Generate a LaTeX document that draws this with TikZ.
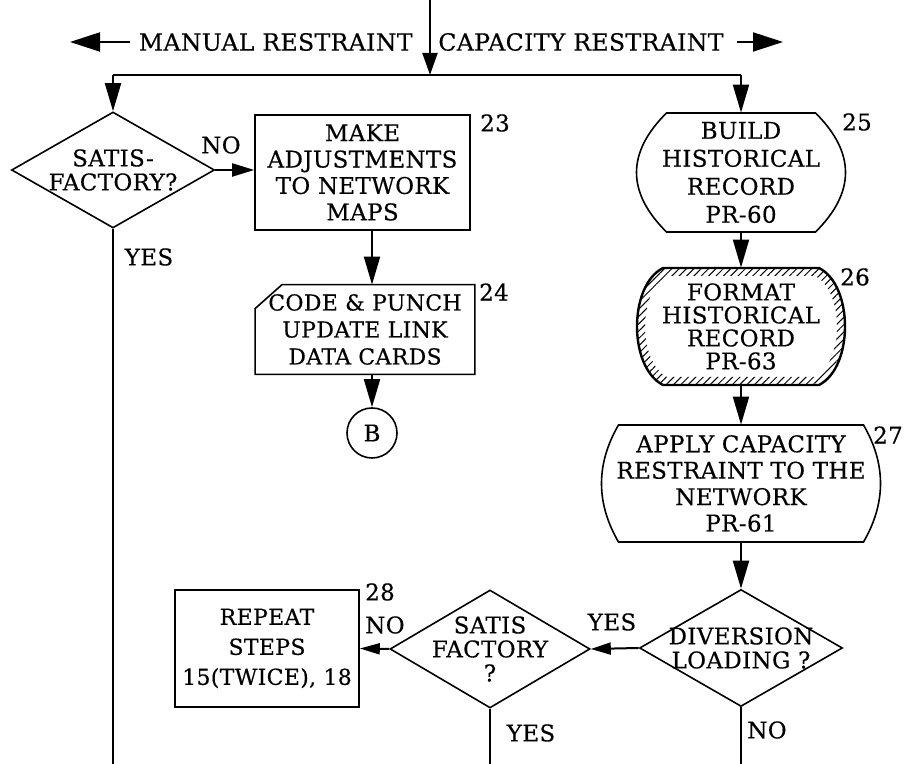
\documentclass[tikz,border=0pt]{standalone}
\usepackage{fontspec}
\setmainfont{DejaVu Serif}[LetterSpace=1.5, FakeBold=0.4]
\usetikzlibrary{shapes.geometric,arrows.meta,patterns.meta}

\newcommand\boxfont{\fontsize{11.5}{13.2}\selectfont}
\newcommand\askfont{\fontsize{11.5}{12}\selectfont}
\newcommand\hdrfont{\fontsize{11.8}{13}\selectfont}
% outline of a terminal with bulging sides: cx, cy, half flat width, half height, bulge, tangent factor
\newcommand\bulgepath[6]{({#1-#3},{#2+#4}) -- ({#1+#3},{#2+#4})
  .. controls +({4*#5/3},{-#6*#4}) and +({4*#5/3},{#6*#4}) .. ({#1+#3},{#2-#4})
  -- ({#1-#3},{#2-#4})
  .. controls +({-4*#5/3},{#6*#4}) and +({-4*#5/3},{-#6*#4}) .. cycle}

\begin{document}
\begin{tikzpicture}[x=0.5pt,y=0.5pt,
    procbox/.style={rectangle, draw, line width=0.8pt, align=center, inner sep=0pt, font=\boxfont},
    termbox/.style={rectangle, align=center, inner sep=0pt, font=\boxfont},
    decision/.style={diamond, draw, line width=0.8pt, inner sep=0pt, label={[align=center, font=\askfont]center:#1}},
    tag/.style={inner sep=0pt, font=\boxfont},
    conn/.style={line width=1pt},
    flow/.style={conn, -{Triangle[length=14pt,width=8pt]}},
    sideflow/.style={conn, -{Triangle[length=11pt,width=6.5pt]}},
    hdrarrow/.style={conn, -{Triangle[length=15pt,width=9.5pt]}}
  ]
    \useasboundingbox (0,0) rectangle (905,764);

    % heading
    \node[tag, font=\hdrfont, anchor=east] (manual) at (413,722) {MANUAL RESTRAINT};
    \node[tag, font=\hdrfont, anchor=west] (capacity) at (438,722) {CAPACITY RESTRAINT};
    \coordinate (mtail) at (130,722);
    \coordinate (mtip) at (70,722);
    \coordinate (ctail) at (737,722);
    \coordinate (ctip) at (783,722);
    \draw[hdrarrow] (mtail) -- (mtip);
    \draw[hdrarrow] (ctail) -- (ctip);

    % manual restraint branch
    \node[decision={SATIS-\\FACTORY?}, minimum width=101.5pt, minimum height=58pt] (d1) at (113,594) {};
    \node[procbox, minimum width=107.5pt, minimum height=57.5pt] (b23) at (362.5,591.5)
      {MAKE\\ADJUSTMENTS\\TO NETWORK\\MAPS};
    \node[termbox, minimum width=109.5pt, minimum height=44.5pt, font=\fontsize{11}{13.5}\selectfont] (pc24) at (365,434.5)
      {CODE \& PUNCH\\UPDATE LINK\\DATA CARDS};
    \node[circle, draw, line width=0.8pt, minimum size=25pt, inner sep=0pt, font=\boxfont] (B) at (372,331) {B};

    % capacity restraint branch
    \node[termbox, minimum width=74.5pt, minimum height=59.5pt, font=\fontsize{11.5}{14}\selectfont] (t25) at (741,591.5)
      {BUILD\\HISTORICAL\\RECORD\\PR-60};
    \node[termbox, minimum width=78pt, minimum height=58.5pt, font=\fontsize{11.5}{11.5}\selectfont] (t26) at (741,437.5)
      {FORMAT\\HISTORICAL\\RECORD\\PR-63};
    \node[termbox, minimum width=122.5pt, minimum height=58.5pt] (t27) at (741,280.5)
      {APPLY CAPACITY\\RESTRAINT TO THE\\NETWORK\\PR-61};
    \node[decision={DIVERSION\\LOADING ?}, minimum width=101.5pt, minimum height=58.5pt] (d3) at (741,116) {};
    \node[decision={SATIS\\FACTORY\\?}, minimum width=100pt, minimum height=59pt] (d2) at (490,115) {};
    \node[procbox, minimum width=92pt, minimum height=58.5pt, font=\fontsize{11}{15}\selectfont] (b28) at (267,115.5)
      {REPEAT\\STEPS\\15(TWICE), 18};

    % outlines
    \draw[line width=0.8pt] (pc24.north east) -- ([xshift=13.5pt]pc24.north west)
      -- ([yshift=-12pt]pc24.north west) -- (pc24.south west) -- (pc24.south east) -- cycle;
    \draw[line width=0.8pt] \bulgepath{741}{591.5}{74.5}{59.5}{30}{2/3};
    \fill[pattern={Lines[angle=45,distance=2.6pt,line width=0.5pt]}, even odd rule]
      \bulgepath{741}{437.5}{78}{58.5}{26}{0.3} \bulgepath{741}{437.5}{74}{50.5}{22}{0.3};
    \draw[line width=1.2pt] \bulgepath{741}{437.5}{78}{58.5}{26}{0.3};
    \draw[line width=0.8pt] \bulgepath{741}{280.5}{122.5}{58.5}{17}{2/3};

    % step numbers
    \node[tag] (n23) at (495,641) {23};
    \node[tag] (n24) at (494,472) {24};
    \node[tag] (n25) at (857,642) {25};
    \node[tag] (n26) at (855,487) {26};
    \node[tag] (n27) at (888,329) {27};
    \node[tag] (n28) at (380,172) {28};

    % branch answers
    \node[tag] (no1) at (221,619) {NO};
    \node[tag] (yes1) at (149,507) {YES};
    \node[tag] (no2) at (385,139) {NO};
    \node[tag] (yes2) at (612,142) {YES};
    \node[tag] (yes3) at (531,31) {YES};
    \node[tag] (no3) at (767,34) {NO};

    % connectors
    \coordinate (top) at (430,764);
    \coordinate (split) at (430,689);
    \coordinate (lcorner) at (113,689);
    \coordinate (rcorner) at (741,689);
    \coordinate (yesend) at (113,0);
    \coordinate (d2end) at (490,0);
    \coordinate (d3end) at (741,0);
    \draw[conn, -{Triangle[length=11pt,width=7.5pt]}] (top) -- (split);
    \draw[conn] (lcorner) -- (rcorner);
    \draw[flow] (lcorner) -- (d1.north);
    \draw[flow] (rcorner) -- (t25.north);
    \draw[sideflow] (d1.east) -- (d1.east -| b23.west);
    \draw[flow] (b23.south -| B) -- (pc24.north -| B);
    \draw[flow] (pc24.south -| B) -- (B.north);
    \draw[conn] (d1.south) -- (yesend);
    \draw[flow] (t25.south) -- (t26.north);
    \draw[flow] (t26.south) -- (t27.north);
    \draw[flow] (t27.south) -- (d3.north);
    \draw[conn, -{Triangle[length=10pt,width=6pt]}] (d3.west) -- (d2.east);
    \draw[conn, -{Triangle[length=10pt,width=5.5pt]}] (d2.west) -- (b28.east);
    \draw[conn] (d2.south) -- (d2end);
    \draw[conn] (d3.south) -- (d3end);
  \end{tikzpicture}
\end{document}
